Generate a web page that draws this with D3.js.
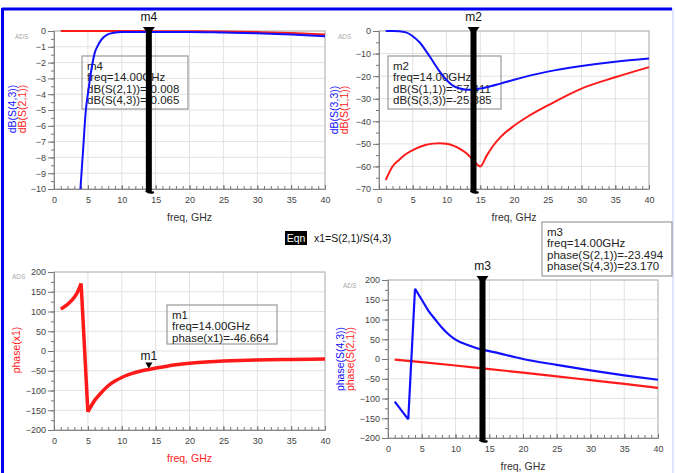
<!DOCTYPE html>
<html>
<head>
<meta charset="utf-8">
<script src="https://cdn.jsdelivr.net/npm/d3@7"></script>
<style>
  body { margin: 0; background: #fff; }
  svg { display: block; font-family: "Liberation Sans", Arial, sans-serif; }
  .tick text { fill: #444; }
</style>
</head>
<body>
<div class="chart"></div>
<script>
// ---- data ----
var freqTicks = [0, 5, 10, 15, 20, 25, 30, 35, 40];
var markerFreq = 14;

// top left: dB(S(4,3)) blue, dB(S(2,1)) red
var s43dBFreq = [3.9, 4.3, 4.7, 5.0, 5.5, 6, 6.5, 7, 8, 9, 10, 14, 20, 25, 30, 35, 40];
var s43dB     = [-10, -7.5, -5, -4, -2.5, -1.4, -0.9, -0.55, -0.2, -0.1, -0.07, -0.065, -0.06, -0.1, -0.15, -0.22, -0.33];
var s21dBFreq = [1, 5, 10, 14, 20, 25, 30, 35, 40];
var s21dB     = [0, 0, -0.005, -0.008, -0.012, -0.03, -0.07, -0.13, -0.22];
var dbTicks1  = [0, -1, -2, -3, -4, -5, -6, -7, -8, -9, -10];

// top right: dB(S(3,3)) blue, dB(S(1,1)) red
var s33dBFreq = [1, 2, 3, 4, 5, 6, 7, 8, 9, 10, 11, 12, 13, 14, 15, 16, 18, 20, 25, 30, 35, 40];
var s33dB     = [0, 0, -0.1, -0.6, -2.3, -5, -9, -13.5, -18, -21.7, -24.3, -25.5, -26, -25.9, -25.5, -24.9, -23.3, -21.6, -18, -15.5, -13.6, -12.2];
var s11dBFreq = [1, 2, 3, 4, 5, 6, 7, 8, 9, 10, 11, 12, 13, 14, 15, 16, 17, 18, 20, 22, 25, 30, 35, 40];
var s11dB     = [-66, -60, -57, -54.5, -52.8, -51.4, -50.4, -49.9, -49.7, -50, -50.8, -52.2, -54.3, -57.4, -60, -55, -50.5, -47, -42, -38, -33, -25.5, -20.5, -16];
var dbTicks2  = [0, -10, -20, -30, -40, -50, -60, -70];

// bottom left: phase(x1)
var x1PhaseFreq = [1, 2, 3, 3.5, 4, 5, 6, 7, 8, 9, 10, 11, 12, 13, 14, 16, 18, 20, 25, 30, 35, 40];
var x1Phase     = [106, 118, 136, 150, 171, -154, -125, -105, -88, -76, -67, -60, -54.5, -50, -46.7, -40.5, -35, -31, -25.5, -22.5, -21.3, -20.5];

// bottom right: phase(S(4,3)) blue, phase(S(2,1)) red
var s43PhaseFreq = [1, 3, 4, 5, 6, 7, 8, 9, 10, 12, 14, 15, 20, 25, 30, 35, 40];
var s43Phase     = [-108, -153, 178, 150, 122, 100, 79, 62, 49, 34, 23.2, 20, 0, -15, -29, -41.5, -52.6];
var s21PhaseFreq = [1, 5, 10, 14, 20, 25, 30, 35, 40];
var s21Phase     = [-1.5, -8, -16.5, -23.5, -34.5, -44, -53.5, -63, -73];
var phaseTicks   = [200, 150, 100, 50, 0, -50, -100, -150, -200];

var m4Text = ["m4", "freq=14.00GHz", "dB(S(2,1))=-0.008", "dB(S(4,3))=-0.065"];
var m2Text = ["m2", "freq=14.00GHz", "dB(S(1,1))=-57.411", "dB(S(3,3))=-25.885"];
var m1Text = ["m1", "freq=14.00GHz", "phase(x1)=-46.664"];
var m3Text = ["m3", "freq=14.00GHz", "phase(S(2,1))=-23.494", "phase(S(4,3))=23.170"];

var BLUE = "#1010ff";
var RED = "#ff1a1a";

var width = 675, height = 473;

var svg = d3.select('.chart').append('svg')
  .attr('width', width)
  .attr('height', height);

svg.append('rect').attr('width', width).attr('height', height).attr('fill', '#fff');

// outer blue frame
svg.append('line').attr('x1', 2).attr('x2', 672).attr('y1', 9).attr('y2', 9)
  .attr('stroke', '#0000ee').attr('stroke-width', 3);
svg.append('line').attr('x1', 2.5).attr('x2', 2.5).attr('y1', 8).attr('y2', height)
  .attr('stroke', '#0000ee').attr('stroke-width', 3);
svg.append('line').attr('x1', 673).attr('x2', 673).attr('y1', 8).attr('y2', height)
  .attr('stroke', '#d8dcff').attr('stroke-width', 1.5);

var panels = [
  {
    left: 54, right: 325, top: 31, bottom: 189,
    yTicks: dbTicks1, yMinor: 0.5, xLabelColor: '#333',
    series: [
      { f: s21dBFreq, v: s21dB, color: RED, w: 2 },
      { f: s43dBFreq, v: s43dB, color: BLUE, w: 2 }
    ],
    yLabels: [{ text: 'dB(S(4,3))', color: BLUE, x: 12 }, { text: 'dB(S(2,1))', color: RED, x: 22 }],
    yLabelY: 109, ads: [15, 39],
    box: { x: 82, y: 56, w: 106, h: 53, lines: m4Text },
    marker: { type: 'bar', name: 'm4' }
  },
  {
    left: 379, right: 649, top: 31, bottom: 189,
    yTicks: dbTicks2, yMinor: 5, xLabelColor: '#333',
    series: [
      { f: s11dBFreq, v: s11dB, color: RED, w: 2 },
      { f: s33dBFreq, v: s33dB, color: BLUE, w: 2 }
    ],
    yLabels: [{ text: 'dB(S(3,3))', color: BLUE, x: 334 }, { text: 'dB(S(1,1))', color: RED, x: 344 }],
    yLabelY: 110, ads: [338, 39],
    box: { x: 388, y: 56, w: 113, h: 53, lines: m2Text },
    marker: { type: 'bar', name: 'm2' }
  },
  {
    left: 54, right: 325, top: 272, bottom: 430,
    yTicks: phaseTicks, yMinor: 25, xLabelColor: RED,
    series: [
      { f: x1PhaseFreq, v: x1Phase, color: RED, w: 3.5 }
    ],
    yLabels: [{ text: 'phase(x1)', color: RED, x: 16 }],
    yLabelY: 350, ads: [12, 279],
    box: { x: 167, y: 305, w: 110, h: 39, lines: m1Text },
    marker: { type: 'tri', name: 'm1', value: -46.664 }
  },
  {
    left: 388, right: 658, top: 280, bottom: 438,
    yTicks: phaseTicks, yMinor: 25, xLabelColor: '#333',
    series: [
      { f: s21PhaseFreq, v: s21Phase, color: RED, w: 2.2 },
      { f: s43PhaseFreq, v: s43Phase, color: BLUE, w: 2.2 }
    ],
    yLabels: [{ text: 'phase(S(4,3))', color: BLUE, x: 340 }, { text: 'phase(S(2,1))', color: RED, x: 350 }],
    yLabelY: 359, ads: [343, 288],
    box: { x: 542, y: 222, w: 130, h: 54, lines: m3Text },
    marker: { type: 'bar', name: 'm3' }
  }
];

// break a trace into runs at phase wraps / corners so those stay sharp
function tracePath(pts, x, y) {
  var smooth = d3.line().x(d => x(d[0])).y(d => y(d[1])).curve(d3.curveMonotoneX);
  var straight = d3.line().x(d => x(d[0])).y(d => y(d[1]));
  var out = '', run = [pts[0]];
  for (var i = 1; i < pts.length; i++) {
    if (Math.abs(pts[i][1] - pts[i - 1][1]) > 150) {
      if (run.length > 1) out += smooth(run);
      out += straight([pts[i - 1], pts[i]]);
      run = [pts[i]];
    } else {
      run.push(pts[i]);
    }
  }
  if (run.length > 1) out += smooth(run);
  return out;
}

function drawPanel(p) {
  var g = svg.append('g');
  var x = d3.scaleLinear().domain([0, 40]).range([p.left, p.right]);
  var yMax = p.yTicks[0], yMin = p.yTicks[p.yTicks.length - 1];
  var y = d3.scaleLinear().domain([yMax, yMin]).range([p.top, p.bottom]);

  // grid
  g.append('g').selectAll('line.v').data(freqTicks.slice(1, -1)).enter().append('line')
    .attr('x1', d => x(d)).attr('x2', d => x(d)).attr('y1', p.top).attr('y2', p.bottom)
    .attr('stroke', '#e2e2e2').attr('stroke-width', 1);
  g.append('g').selectAll('line.h').data(p.yTicks.slice(1, -1)).enter().append('line')
    .attr('x1', p.left).attr('x2', p.right).attr('y1', d => y(d)).attr('y2', d => y(d))
    .attr('stroke', '#e2e2e2').attr('stroke-width', 1);

  // frame
  g.append('rect').attr('x', p.left).attr('y', p.top)
    .attr('width', p.right - p.left).attr('height', p.bottom - p.top)
    .attr('fill', 'none').attr('stroke', '#c4c4c4').attr('stroke-width', 1.5);

  // y axis, major + minor
  var minorY = d3.range(yMin, yMax + 0.001, p.yMinor);
  g.append('g').attr('transform', 'translate(' + p.left + ',0)')
    .call(d3.axisLeft(y).tickValues(minorY).tickSize(3).tickFormat(''))
    .call(a => a.select('.domain').remove())
    .selectAll('line').attr('stroke', '#777');
  var ya = g.append('g').attr('transform', 'translate(' + p.left + ',0)')
    .call(d3.axisLeft(y).tickValues(p.yTicks).tickSize(6).tickPadding(2))
    .style('font', '9px "Liberation Sans", Arial, sans-serif');
  ya.select('.domain').attr('stroke', '#888');
  ya.selectAll('line').attr('stroke', '#777');

  // x axis, minor ticks pointing up
  g.append('g').attr('transform', 'translate(0,' + p.bottom + ')')
    .call(d3.axisBottom(x).tickValues(d3.range(0, 41, 1)).tickSize(-3).tickFormat(''))
    .call(a => a.select('.domain').remove())
    .selectAll('line').attr('stroke', '#777');
  var xa = g.append('g').attr('transform', 'translate(0,' + p.bottom + ')')
    .call(d3.axisBottom(x).tickValues(freqTicks).tickSize(-4).tickPadding(8))
    .style('font', '9px "Liberation Sans", Arial, sans-serif');
  xa.select('.domain').attr('stroke', '#888');
  xa.selectAll('line').attr('stroke', '#777');

  g.append('text').attr('x', (p.left + p.right) / 2).attr('y', p.bottom + 32)
    .attr('text-anchor', 'middle').attr('font-size', 10.5).attr('fill', p.xLabelColor)
    .text('freq, GHz');

  p.yLabels.forEach(function(l) {
    g.append('text')
      .attr('transform', 'translate(' + l.x + ',' + p.yLabelY + ') rotate(-90)')
      .attr('text-anchor', 'middle').attr('dy', '0.35em')
      .attr('font-size', 10.5).attr('fill', l.color)
      .text(l.text);
  });

  g.append('text').attr('x', p.ads[0]).attr('y', p.ads[1])
    .attr('font-size', 6.5).attr('fill', '#aaa').text('ADS');

  // marker readout box
  var b = p.box;
  g.append('rect').attr('x', b.x).attr('y', b.y).attr('width', b.w).attr('height', b.h)
    .attr('fill', 'none').attr('stroke', '#999').attr('stroke-width', 1.2);
  g.append('g').selectAll('text').data(b.lines).enter().append('text')
    .attr('x', b.x + 5).attr('y', (d, i) => b.y + 14 + i * 11.3)
    .attr('font-size', 11.5).attr('fill', '#222').text(d => d);

  // curves
  p.series.forEach(function(s) {
    var pts = s.f.map((f, i) => [f, s.v[i]]);
    g.append('path')
      .attr('d', tracePath(pts, x, y))
      .attr('fill', 'none').attr('stroke', s.color).attr('stroke-width', s.w)
      .attr('stroke-linejoin', 'round');
  });

  // marker
  var mx = x(markerFreq);
  if (p.marker.type === 'bar') {
    g.append('line').attr('x1', mx).attr('x2', mx).attr('y1', p.top - 2).attr('y2', p.bottom + 3)
      .attr('stroke', '#000').attr('stroke-width', 6);
    g.append('path')
      .attr('d', 'M' + (mx - 6) + ',' + (p.top - 4) + 'L' + (mx + 6) + ',' + (p.top - 4) + 'L' + mx + ',' + (p.top + 4) + 'Z')
      .attr('fill', '#000');
    g.append('path')
      .attr('d', 'M' + (mx - 3) + ',' + (p.bottom + 2) + 'Q' + (mx + 1) + ',' + (p.bottom + 5) + ' ' + (mx + 5) + ',' + (p.bottom + 3))
      .attr('fill', 'none').attr('stroke', '#000').attr('stroke-width', 2);
    g.append('text').attr('x', mx).attr('y', p.top - 10)
      .attr('text-anchor', 'middle').attr('font-size', 12).attr('fill', '#111')
      .text(p.marker.name);
  } else {
    var my = y(p.marker.value);
    g.append('path')
      .attr('d', 'M' + (mx - 3.5) + ',' + (my - 7) + 'L' + (mx + 3.5) + ',' + (my - 7) + 'L' + mx + ',' + (my - 1) + 'Z')
      .attr('fill', '#000');
    g.append('text').attr('x', mx).attr('y', my - 9)
      .attr('text-anchor', 'middle').attr('font-size', 12).attr('fill', '#111')
      .text(p.marker.name);
  }
}

panels.forEach(drawPanel);

// equation block
svg.append('rect').attr('x', 285).attr('y', 231).attr('width', 22).attr('height', 14).attr('fill', '#000');
svg.append('text').attr('x', 296).attr('y', 242).attr('text-anchor', 'middle')
  .attr('font-size', 10.5).attr('fill', '#fff').text('Eqn');
svg.append('text').attr('x', 314).attr('y', 242)
  .attr('font-size', 10.5).attr('fill', '#111').text('x1=S(2,1)/S(4,3)');
</script>
</body>
</html>
